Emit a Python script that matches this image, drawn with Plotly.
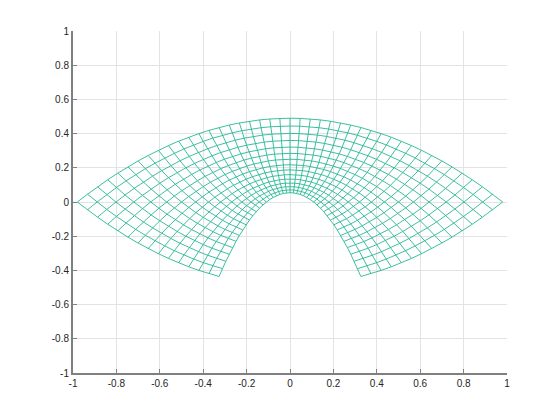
import plotly.graph_objects as go

# Grid parameters of the mapped mesh (w = i * z^2, z = u + i v), step 1/30
u_vals = [k / 30 for k in [7, 8, 9, 10, 11, 12, 13, 14, 15, 16, 17, 18, 19, 20, 21]]
v_vals = [k / 30 for k in [-21, -20, -19, -18, -17, -16, -15, -14, -13, -12, -11,
                           -10, -9, -8, -7, -6, -5, -4, -3, -2, -1, 0, 1, 2, 3, 4,
                           5, 6, 7, 8, 9, 10, 11, 12, 13, 14, 15, 16, 17, 18, 19,
                           20, 21]]
tick_vals = [-1, -0.8, -0.6, -0.4, -0.2, 0, 0.2, 0.4, 0.6, 0.8, 1]
tick_text = ["-1", "-0.8", "-0.6", "-0.4", "-0.2", "0", "0.2", "0.4", "0.6", "0.8", "1"]


def mapped(u, v):
    return -2 * u * v, u * u - v * v


xs, ys = [], []
for u in u_vals:
    for v in v_vals:
        x, y = mapped(u, v)
        xs.append(x)
        ys.append(y)
    xs.append(None)
    ys.append(None)
for v in v_vals:
    for u in u_vals:
        x, y = mapped(u, v)
        xs.append(x)
        ys.append(y)
    xs.append(None)
    ys.append(None)

fig = go.Figure()
fig.add_trace(go.Scatter(x=xs, y=ys, mode="lines",
                         line=dict(color="rgb(40,184,148)", width=0.9),
                         hoverinfo="skip", showlegend=False))

axis_common = dict(
    range=[-1, 1], tickvals=tick_vals, ticktext=tick_text,
    showgrid=True, gridcolor="#e3e3e3", gridwidth=1,
    zeroline=False, showline=True, linecolor="#808080", linewidth=2,
    ticks="inside", ticklen=4, tickcolor="#808080", tickwidth=1,
    mirror=False, tickfont=dict(family="Liberation Sans, Arial, sans-serif",
                                size=10, color="#262626"),
)
fig.update_layout(
    width=560, height=420,
    margin=dict(l=65, r=61, t=23, b=55, autoexpand=False),
    paper_bgcolor="white", plot_bgcolor="white",
    xaxis=axis_common, yaxis=axis_common,
)
fig.write_html("out.html")
